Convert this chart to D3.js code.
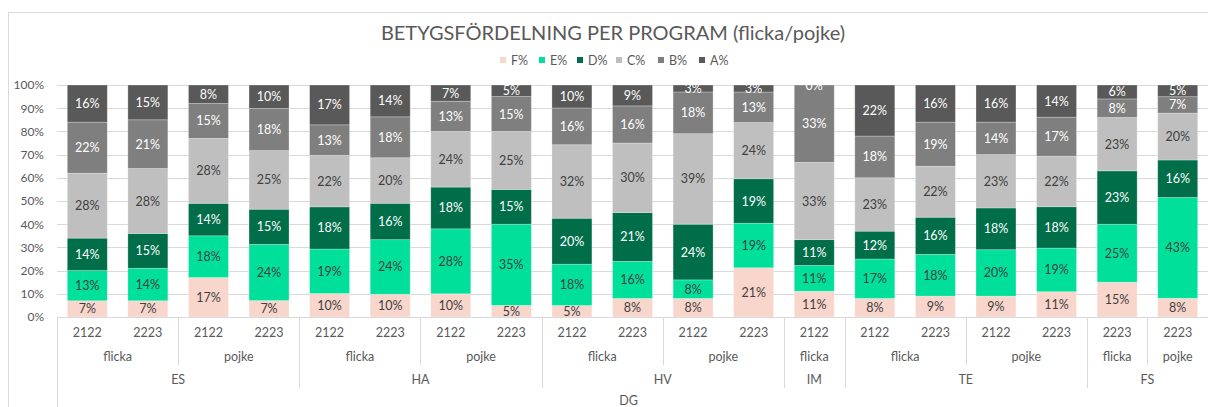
<!DOCTYPE html>
<html>

<head>
  <meta charset="UTF-8">
  <script src="https://d3js.org/d3.v7.js"></script>
  <style>
    body { margin: 0; background: #fff; }
    text { font-family: "Lato", "DejaVu Sans", sans-serif; }
  </style>
</head>

<body>
  <div id="chart"></div>

  <script>
    // data

    const programs = ["ES", "ES", "ES", "ES", "HA", "HA", "HA", "HA", "HV", "HV", "HV", "HV", "IM", "TE", "TE", "TE", "TE", "FS", "FS"];
    const genders = ["flicka", "flicka", "pojke", "pojke", "flicka", "flicka", "pojke", "pojke", "flicka", "flicka", "pojke", "pojke", "flicka", "flicka", "flicka", "pojke", "pojke", "flicka", "pojke"];
    const years = ["2122", "2223", "2122", "2223", "2122", "2223", "2122", "2223", "2122", "2223", "2122", "2223", "2122", "2122", "2223", "2122", "2223", "2223", "2223"];

    const F = [7, 7, 17, 7, 10, 10, 10, 5, 5, 8, 8, 21, 11, 8, 9, 9, 11, 15, 8];
    const E = [13, 14, 18, 24, 19, 24, 28, 35, 18, 16, 8, 19, 11, 17, 18, 20, 19, 25, 43];
    const D = [14, 15, 14, 15, 18, 16, 18, 15, 20, 21, 24, 19, 11, 12, 16, 18, 18, 23, 16];
    const C = [28, 28, 28, 25, 22, 20, 24, 25, 32, 30, 39, 24, 33, 23, 22, 23, 22, 23, 20];
    const B = [22, 21, 15, 18, 13, 18, 13, 15, 16, 16, 18, 13, 33, 18, 19, 14, 17, 8, 7];
    const A = [16, 15, 8, 10, 17, 14, 7, 5, 10, 9, 3, 3, 0, 22, 16, 16, 14, 6, 5];

    const seriesKeys = ["F%", "E%", "D%", "C%", "B%", "A%"];
    const seriesValues = [F, E, D, C, B, A];
    const colors = ["#f8d6cc", "#00e09b", "#006e49", "#bfbfbf", "#7f7f7f", "#595959"];
    const labelColors = ["#404040", "#404040", "#ffffff", "#404040", "#ffffff", "#ffffff"];

    const yTicks = [0, 0.1, 0.2, 0.3, 0.4, 0.5, 0.6, 0.7, 0.8, 0.9, 1];
    const title = "BETYGSFÖRDELNING PER PROGRAM (flicka/pojke)";
    const topLabel = "DG";

    // table for d3.stack
    const rows = programs.map((p, i) => {
      const r = { i: i };
      seriesKeys.forEach((k, j) => r[k] = seriesValues[j][i]);
      return r;
    });

    // set up

    const W = 1208, H = 407;
    const plot = { left: 57, right: 1208, top: 85, bottom: 317 };

    const svg = d3.select('#chart')
      .append('svg')
        .attr('width', W)
        .attr('height', H);

    // chart border
    svg.append('rect')
        .attr('x', 8.5).attr('y', 12.5)
        .attr('width', W).attr('height', H)
        .attr('fill', 'none')
        .attr('stroke', '#d9d9d9');

    // scales

    const x = d3.scaleBand()
        .domain(rows.map(d => d.i))
        .range([plot.left, plot.right])
        .paddingInner(0.34)
        .paddingOuter(0.17);

    const y = d3.scaleLinear()
        .domain([0, 1])
        .range([plot.bottom, plot.top]);

    const stacked = d3.stack()
        .keys(seriesKeys)
        .offset(d3.stackOffsetExpand)(rows);

    // gridlines + y axis

    svg.append('g')
      .selectAll('line')
      .data(yTicks)
      .join('line')
        .attr('x1', plot.left)
        .attr('x2', plot.right)
        .attr('y1', d => Math.round(y(d)) + 0.5)
        .attr('y2', d => Math.round(y(d)) + 0.5)
        .attr('stroke', '#d9d9d9')
        .attr('stroke-width', 1);

    const yAxis = d3.axisLeft(y)
        .tickValues(yTicks)
        .tickFormat(d3.format('.0%'))
        .tickSize(0)
        .tickPadding(13);

    svg.append('g')
        .attr('transform', `translate(${plot.left},0)`)
        .call(yAxis)
        .call(g => g.select('.domain').remove())
        .call(g => g.selectAll('text')
          .attr('fill', '#595959')
          .style('font-size', '12px')
          .style('font-family', '"Lato", "DejaVu Sans", sans-serif'));

    // bars

    const layers = svg.append('g')
      .selectAll('g')
      .data(stacked)
      .join('g')
        .attr('fill', (d, i) => colors[i]);

    layers.selectAll('rect')
      .data(d => d)
      .join('rect')
        .attr('x', d => x(d.data.i))
        .attr('width', x.bandwidth())
        .attr('y', d => y(d[1]))
        .attr('height', d => y(d[0]) - y(d[1]))
        .attr('stroke', '#ffffff')
        .attr('stroke-opacity', 0.35)
        .attr('stroke-width', 0.75);

    // data labels (clipped to plot area like the original)

    svg.append('clipPath')
        .attr('id', 'plotclip')
      .append('rect')
        .attr('x', plot.left)
        .attr('y', plot.top - 1)
        .attr('width', plot.right - plot.left)
        .attr('height', plot.bottom - plot.top + 1);

    const labels = svg.append('g')
        .attr('clip-path', 'url(#plotclip)');

    stacked.forEach((s, si) => {
      labels.append('g')
        .selectAll('text')
        .data(s)
        .join('text')
          .attr('x', d => x(d.data.i) + x.bandwidth() / 2)
          .attr('y', d => (y(d[0]) + y(d[1])) / 2)
          .attr('dy', '0.36em')
          .attr('text-anchor', 'middle')
          .attr('fill', labelColors[si])
          .style('font-size', '12.5px')
          .text(d => d.data[s.key] + '%');
    });

    // multi-level category axis

    const axisColor = '#d9d9d9';
    const textColor = '#595959';
    const axis = svg.append('g');

    axis.append('line')
        .attr('x1', plot.left).attr('x2', plot.right)
        .attr('y1', plot.bottom + 0.5).attr('y2', plot.bottom + 0.5)
        .attr('stroke', axisColor);

    // year labels
    axis.append('g')
      .selectAll('text')
      .data(rows)
      .join('text')
        .attr('x', d => x(d.i) + x.bandwidth() / 2)
        .attr('y', 337)
        .attr('text-anchor', 'middle')
        .attr('fill', textColor)
        .style('font-size', '12.5px')
        .text(d => years[d.i]);

    // consecutive groups from an array of keys
    function groupsOf(keys) {
      const out = [];
      keys.forEach((k, i) => {
        const last = out[out.length - 1];
        if (last && last.key === k) last.end = i;
        else out.push({ key: k, start: i, end: i });
      });
      return out;
    }

    const step = x.step();
    const edgeL = i => x(i) - x.paddingInner() * step / 2;
    const edgeR = i => x(i) + x.bandwidth() + x.paddingInner() * step / 2;

    const genderGroups = groupsOf(rows.map(d => programs[d.i] + '|' + genders[d.i]));
    const programGroups = groupsOf(programs);

    axis.append('g')
      .selectAll('text')
      .data(genderGroups)
      .join('text')
        .attr('x', d => (edgeL(d.start) + edgeR(d.end)) / 2)
        .attr('y', 361)
        .attr('text-anchor', 'middle')
        .attr('fill', textColor)
        .style('font-size', '12.5px')
        .text(d => d.key.split('|')[1]);

    axis.append('g')
      .selectAll('text')
      .data(programGroups)
      .join('text')
        .attr('x', d => (edgeL(d.start) + edgeR(d.end)) / 2)
        .attr('y', 384)
        .attr('text-anchor', 'middle')
        .attr('fill', textColor)
        .style('font-size', '12.5px')
        .text(d => d.key);

    axis.append('text')
        .attr('x', (plot.left + plot.right) / 2 - 4)
        .attr('y', 405)
        .attr('text-anchor', 'middle')
        .attr('fill', textColor)
        .style('font-size', '12.5px')
        .text(topLabel);

    // separators: gender boundaries short, program boundaries longer
    const programStarts = new Set(programGroups.map(g => g.start));
    axis.append('g')
      .selectAll('line')
      .data(genderGroups.filter(g => g.start > 0))
      .join('line')
        .attr('x1', d => Math.round(edgeL(d.start)) + 0.5)
        .attr('x2', d => Math.round(edgeL(d.start)) + 0.5)
        .attr('y1', plot.bottom)
        .attr('y2', d => programStarts.has(d.start) ? 388 : 365)
        .attr('stroke', axisColor);

    axis.append('line')
        .attr('x1', plot.left + 0.5).attr('x2', plot.left + 0.5)
        .attr('y1', plot.bottom).attr('y2', H)
        .attr('stroke', axisColor);

    // title

    svg.append('text')
        .attr('x', 613)
        .attr('y', 40)
        .attr('text-anchor', 'middle')
        .attr('fill', '#595959')
        .style('font-size', '20px')
        .text(title);

    // legend

    const legend = svg.append('g')
        .attr('transform', 'translate(500,60)');

    const legendX = [0, 39, 77, 116, 158, 199];

    const items = legend.selectAll('g')
      .data(seriesKeys)
      .join('g')
        .attr('transform', (d, i) => `translate(${legendX[i]},0)`);

    items.append('rect')
        .attr('x', 0).attr('y', -3)
        .attr('width', 6).attr('height', 6)
        .attr('fill', (d, i) => colors[i]);

    items.append('text')
        .attr('x', 11)
        .attr('dy', '0.36em')
        .attr('fill', '#595959')
        .style('font-size', '12.5px')
        .text(d => d);
  </script>
</body>

</html>
